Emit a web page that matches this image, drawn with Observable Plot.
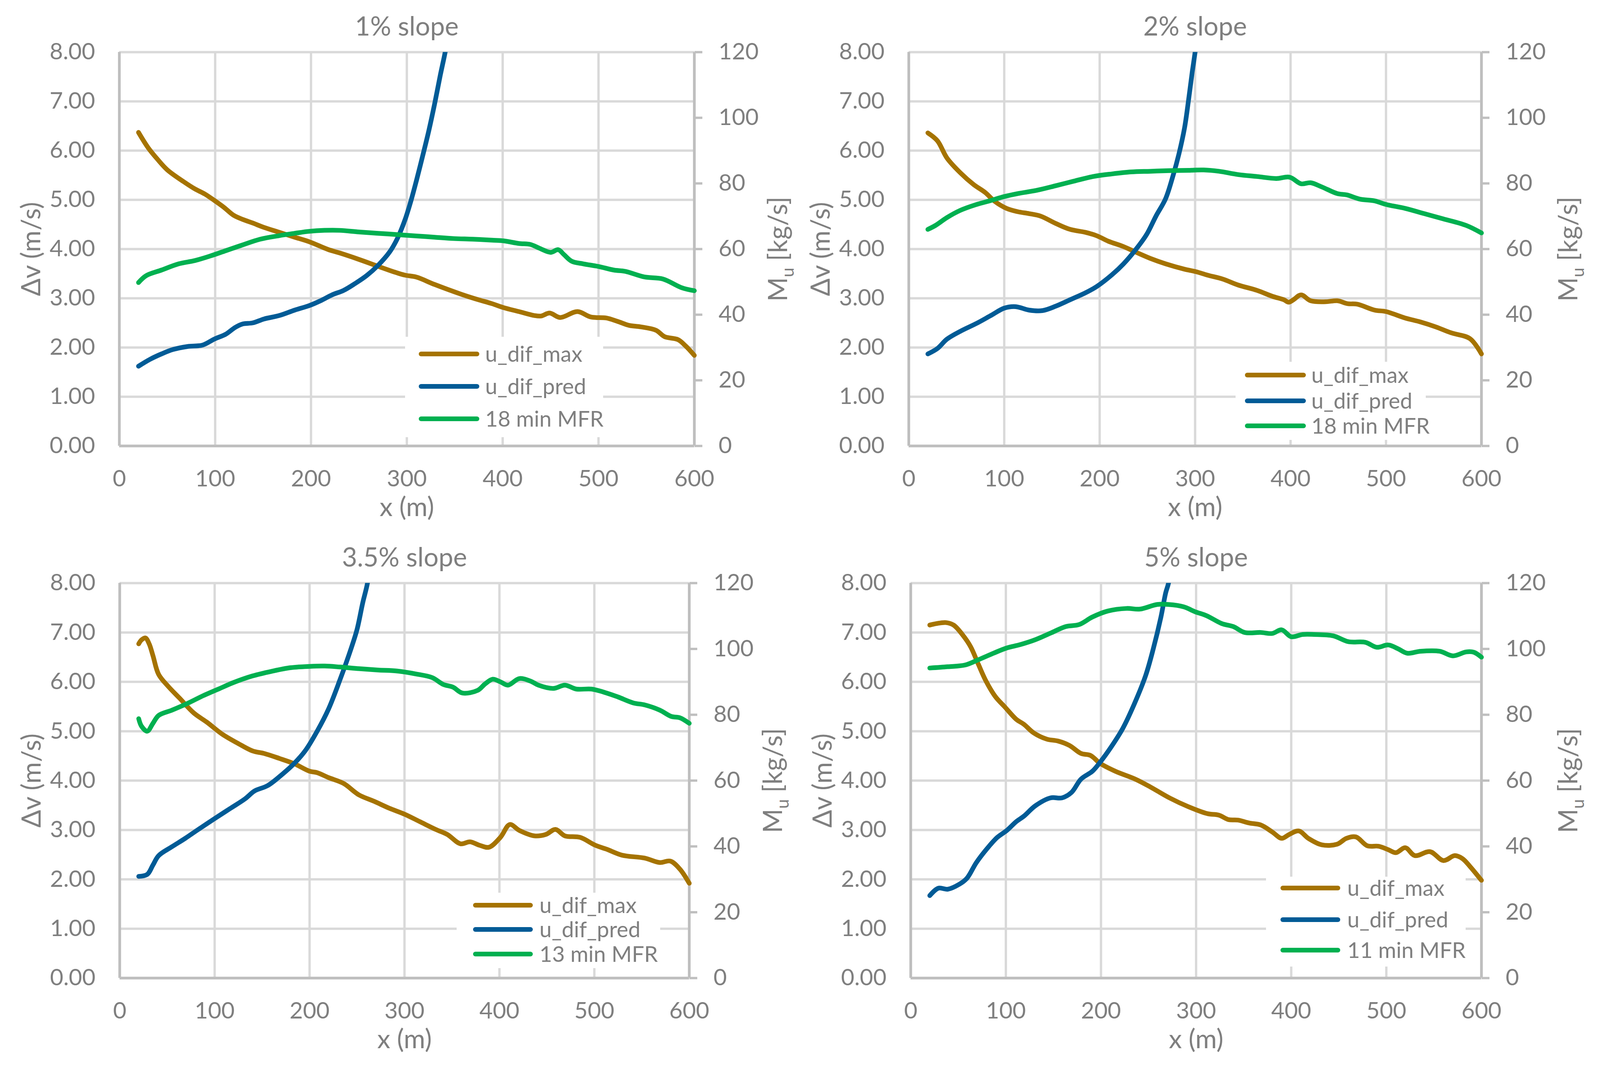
<!DOCTYPE html>
<html>
<head>
<meta charset="utf-8">
<script src="https://cdn.jsdelivr.net/npm/d3@7"></script>
<script src="https://cdn.jsdelivr.net/npm/@observablehq/plot@0.6"></script>
<style>
  html, body { margin: 0; padding: 0; background: #fff; overflow: hidden; }
  #root { position: relative; height: 2726px; overflow: hidden; font-family: Lato, "Open Sans", sans-serif; background: #fff; }
  .panel { position: absolute; }
  .legend { position: absolute; background: #fff; }
  .swatch { position: absolute; height: 12px; border-radius: 6px; }
  .ltext { position: absolute; font-size: 56px; line-height: 1; color: #7f7f7f; transform: translateY(-52%); white-space: nowrap; }
</style>
</head>
<body>
<div id="root"></div>
<script>
// ---------- data ----------
const titles = ["1% slope", "2% slope", "3.5% slope", "5% slope"];
const seriesNames = ["u_dif_max", "u_dif_pred"];
const mfrLabels = ["18 min MFR", "18 min MFR", "13 min MFR", "11 min MFR"];
const xTicks = [0, 100, 200, 300, 400, 500, 600];
const leftTicks = [0, 1, 2, 3, 4, 5, 6, 7, 8];
const rightTicks = [0, 20, 40, 60, 80, 100, 120];

// 1% slope
const p1Max = [[20,6.37],[30,6.06],[40,5.82],[50,5.61],[67,5.37],[79,5.22],[89,5.12],[99,4.99],[109,4.85],[119,4.69],[129,4.60],[139,4.53],[151,4.44],[167,4.34],[183,4.24],[198,4.15],[218,3.99],[230,3.92],[250,3.79],[270,3.65],[286,3.54],[298,3.47],[310,3.43],[329,3.28],[357,3.08],[373,2.98],[389,2.89],[401,2.81],[417,2.73],[433,2.65],[440,2.64],[449,2.70],[460,2.61],[478,2.73],[492,2.62],[508,2.60],[520,2.53],[532,2.45],[544,2.42],[560,2.35],[569,2.22],[583,2.16],[591,2.03],[600,1.84]];
const p1Pred = [[20,1.62],[32,1.76],[44,1.87],[56,1.96],[71,2.02],[87,2.05],[99,2.17],[111,2.27],[121,2.41],[129,2.48],[139,2.50],[151,2.58],[167,2.65],[183,2.76],[198,2.85],[210,2.95],[222,3.07],[234,3.16],[246,3.30],[258,3.46],[270,3.67],[282,3.94],[290,4.21],[298,4.59],[304,4.96],[310,5.39],[317,5.93],[323,6.41],[329,6.95],[335,7.54],[340,8.00],[344,8.45]];
const p1Mfr = [[20,49.8],[28,51.9],[44,53.6],[62,55.5],[79,56.5],[95,57.9],[111,59.5],[127,61.1],[147,63.0],[167,64.1],[183,64.8],[198,65.4],[214,65.7],[230,65.7],[250,65.2],[270,64.8],[290,64.4],[310,64.0],[329,63.6],[349,63.2],[369,63.0],[389,62.7],[401,62.5],[417,61.7],[429,61.4],[438,60.3],[450,59.0],[458,59.8],[464,58.3],[472,56.3],[484,55.5],[500,54.7],[516,53.6],[528,53.2],[548,51.5],[567,50.9],[587,48.2],[600,47.3]];

// 2% slope
const p2Max = [[20,6.36],[30,6.20],[40,5.85],[54,5.55],[68,5.31],[80,5.15],[90,4.97],[102,4.83],[114,4.76],[126,4.72],[138,4.67],[154,4.52],[169,4.40],[185,4.34],[197,4.27],[209,4.16],[225,4.05],[241,3.91],[253,3.81],[269,3.70],[289,3.59],[301,3.54],[313,3.47],[329,3.39],[345,3.27],[365,3.16],[381,3.04],[393,2.97],[398,2.92],[403,2.97],[411,3.07],[421,2.95],[437,2.93],[449,2.95],[460,2.89],[470,2.88],[488,2.76],[500,2.73],[520,2.60],[536,2.52],[552,2.42],[568,2.30],[588,2.18],[600,1.87]];
const p2Pred = [[20,1.87],[30,1.98],[40,2.17],[54,2.33],[72,2.50],[86,2.65],[100,2.80],[112,2.83],[126,2.76],[140,2.75],[154,2.84],[169,2.97],[185,3.11],[197,3.24],[213,3.48],[225,3.70],[237,3.97],[249,4.29],[259,4.67],[269,5.02],[277,5.50],[283,5.93],[289,6.47],[293,7.01],[297,7.60],[300,8.00],[303,8.45]];
const p2Mfr = [[20,66.0],[28,67.2],[40,69.6],[54,71.8],[70,73.5],[86,74.8],[100,76.0],[114,76.9],[134,77.9],[154,79.3],[173,80.7],[193,82.1],[213,82.9],[233,83.5],[253,83.7],[273,83.9],[293,84.0],[309,84.1],[325,83.7],[345,82.7],[365,82.1],[385,81.5],[399,81.9],[411,79.9],[421,80.2],[433,78.9],[449,76.9],[459,76.5],[473,75.2],[488,74.7],[500,73.6],[520,72.4],[540,70.8],[560,69.2],[584,67.2],[600,64.9]];

// 3.5% slope
const p3Max = [[20,6.77],[23,6.85],[27,6.89],[31,6.77],[35,6.53],[41,6.15],[51,5.91],[63,5.67],[78,5.37],[92,5.18],[108,4.94],[124,4.76],[140,4.60],[152,4.55],[168,4.45],[184,4.34],[200,4.19],[208,4.16],[220,4.06],[236,3.94],[252,3.71],[268,3.58],[284,3.44],[300,3.32],[316,3.17],[333,3.01],[345,2.91],[359,2.72],[369,2.76],[379,2.69],[389,2.65],[401,2.85],[411,3.11],[421,2.99],[437,2.88],[449,2.91],[459,3.01],[469,2.88],[485,2.85],[501,2.69],[513,2.61],[529,2.49],[553,2.43],[569,2.34],[580,2.37],[590,2.21],[600,1.92]];
const p3Pred = [[20,2.06],[29,2.10],[35,2.29],[41,2.48],[55,2.66],[69,2.83],[82,3.00],[100,3.23],[116,3.43],[132,3.63],[142,3.79],[156,3.90],[172,4.14],[184,4.35],[196,4.62],[208,5.00],[220,5.45],[232,6.04],[244,6.69],[250,7.06],[256,7.60],[261,8.00],[264,8.45]];
const p3Mfr = [[20,78.8],[23,76.5],[29,75.0],[35,77.4],[41,79.8],[55,81.4],[71,83.4],[88,85.8],[104,87.8],[120,89.8],[140,91.8],[160,93.2],[180,94.3],[200,94.7],[216,94.8],[232,94.5],[252,94.0],[272,93.6],[292,93.3],[312,92.4],[329,91.3],[341,89.2],[351,88.4],[361,86.6],[377,87.4],[385,89.4],[393,90.8],[401,90.0],[409,89.0],[421,91.0],[433,90.2],[441,89.0],[457,88.0],[469,89.0],[481,87.8],[497,87.8],[513,86.6],[525,85.4],[541,83.6],[553,83.0],[569,81.4],[581,79.5],[590,79.1],[600,77.4]];

// 5% slope
const p4Max = [[20,7.15],[27,7.18],[37,7.20],[45,7.15],[55,6.94],[63,6.71],[71,6.36],[79,6.02],[89,5.70],[99,5.49],[111,5.24],[119,5.14],[129,4.97],[143,4.84],[155,4.80],[167,4.71],[179,4.55],[189,4.51],[199,4.35],[215,4.19],[236,4.03],[252,3.87],[272,3.65],[292,3.47],[312,3.33],[324,3.30],[334,3.21],[344,3.20],[356,3.14],[368,3.10],[380,2.96],[390,2.83],[398,2.91],[408,2.98],[418,2.83],[432,2.70],[448,2.71],[458,2.83],[468,2.86],[480,2.68],[492,2.67],[502,2.60],[510,2.54],[520,2.64],[530,2.48],[546,2.56],[560,2.38],[572,2.48],[580,2.42],[588,2.26],[600,1.98]];
const p4Pred = [[20,1.67],[29,1.82],[39,1.80],[51,1.90],[59,2.02],[69,2.34],[81,2.64],[91,2.85],[101,2.99],[111,3.17],[119,3.28],[131,3.49],[147,3.65],[159,3.65],[169,3.76],[179,4.03],[191,4.19],[199,4.37],[211,4.69],[223,5.06],[235,5.55],[247,6.13],[255,6.67],[263,7.31],[268,7.80],[271,8.00],[274,8.45]];
const p4Mfr = [[20,94.2],[39,94.6],[57,95.1],[71,96.7],[87,98.7],[101,100.3],[115,101.3],[131,102.8],[147,104.8],[163,106.8],[177,107.4],[191,109.7],[207,111.5],[227,112.3],[241,112.1],[259,113.5],[271,113.5],[287,112.8],[299,111.3],[311,110.1],[327,107.7],[339,106.8],[351,105.0],[368,105.0],[380,104.7],[390,105.8],[400,103.7],[412,104.4],[424,104.4],[444,104.0],[460,102.2],[478,102.0],[490,100.5],[502,101.2],[512,100.1],[522,98.7],[536,99.3],[556,99.3],[570,97.9],[584,99.1],[592,99.0],[600,97.5]];

const maxSeries = [p1Max, p2Max, p3Max, p4Max];
const predSeries = [p1Pred, p2Pred, p3Pred, p4Pred];
const mfrSeries = [p1Mfr, p2Mfr, p3Mfr, p4Mfr];

// ---------- styling / layout ----------
const COLORS = { max: "#a57300", pred: "#005b96", mfr: "#00b050" };
const TEXT = "#7f7f7f", GRID = "#d9d9d9", AXIS = "#bfbfbf";
const RATIO = 120 / 8; // right axis (kg/s) per left axis unit (m/s)

// layout is measured on a 4292-wide canvas; x positions are fitted to the real viewport width
const REF_W = 4292;
const W = Math.min(REF_W, window.innerWidth || REF_W);
const sx = W / REF_W;
const X = v => Math.round(v * sx);

const layouts = [
  { left: 0,    top: 0,    ml: 320, mr: 284, mt: 133, mb: 222, rdx: 226 },
  { left: 2146, top: 0,    ml: 291, mr: 319, mt: 133, mb: 222, rdx: 235 },
  { left: 0,    top: 1359, ml: 321, mr: 298, mt: 133, mb: 219, rdx: 226 },
  { left: 2146, top: 1359, ml: 297, mr: 319, mt: 133, mb: 219, rdx: 235 }
];
const legendLayouts = [
  { box: [1087, 862, 1618, 1119], rows: [906, 989, 1072], line: [1123, 1286], text: 1301 },
  { box: [3314, 926, 3825, 1126], rows: [960, 1026, 1090], line: [3340, 3503], text: 3518 },
  { box: [1225, 2285, 1771, 2478], rows: [2317, 2379, 2442], line: [1269, 1429], text: 1447 },
  { box: [3396, 2244, 3932, 2474], rows: [2273, 2354, 2432], line: [3435, 3595], text: 3614 }
];

const root = document.getElementById("root");
root.style.width = W + "px";
const lineOpts = { strokeWidth: 12, strokeLinecap: "round", strokeLinejoin: "round", curve: "catmull-rom" };

for (let i = 0; i < 4; i++) {
  const L = layouts[i];
  const svg = Plot.plot({
    width: X(2146),
    height: 1363,
    marginLeft: X(L.ml), marginRight: X(L.mr), marginTop: L.mt, marginBottom: L.mb,
    x: { domain: [0, 600], axis: null },
    y: { domain: [0, 8], axis: null },
    style: { fontFamily: "Lato, 'Open Sans', sans-serif", fontSize: "58px", color: TEXT, background: "#fff" },
    marks: [
      Plot.gridX(xTicks.filter(d => d > 0 && d < 600), { stroke: GRID, strokeOpacity: 1, strokeWidth: 6 }),
      Plot.gridY(leftTicks.filter(d => d > 0), { stroke: GRID, strokeOpacity: 1, strokeWidth: 6 }),
      Plot.ruleX([0, 600], { stroke: AXIS, strokeWidth: 7 }),
      Plot.ruleY([0], { stroke: AXIS, strokeWidth: 7 }),
      Plot.axisX(xTicks, { anchor: "bottom", tickSize: 0, tickPadding: 62, fontSize: 59, fill: TEXT, tickFormat: d => String(d) }),
      Plot.axisY(leftTicks, { anchor: "left", tickSize: 0, tickPadding: X(65), fontSize: 59, fill: TEXT, tickFormat: d3.format(".2f") }),
      Plot.axisY(rightTicks.map(v => v / RATIO), {
        anchor: "right", tickSize: X(21), tickPadding: X(44), stroke: AXIS, strokeWidth: 6,
        fontSize: 59, fill: TEXT, tickFormat: d => String(Math.round(d * RATIO))
      }),
      Plot.line(maxSeries[i], { x: d => d[0], y: d => d[1], stroke: COLORS.max, ...lineOpts }),
      Plot.line(predSeries[i], { x: d => d[0], y: d => d[1], stroke: COLORS.pred, clip: true, ...lineOpts }),
      Plot.line(mfrSeries[i], { x: d => d[0], y: d => d[1] / RATIO, stroke: COLORS.mfr, ...lineOpts }),
      Plot.text([titles[i]], { text: d => d, frameAnchor: "top", dy: -43, lineAnchor: "bottom", fontSize: 67, fill: TEXT }),
      Plot.text(["x (m)"], { text: d => d, frameAnchor: "bottom", dy: 158, lineAnchor: "middle", fontSize: 67, fill: TEXT }),
      Plot.text(["Δv (m/s)"], { text: d => d, frameAnchor: "left", dx: -X(235), rotate: -90, lineAnchor: "middle", textAnchor: "middle", fontSize: 67, fill: TEXT }),
      Plot.text(["M_u [kg/s]"], { text: d => d, frameAnchor: "right", dx: X(L.rdx), rotate: -90, lineAnchor: "middle", textAnchor: "middle", fontSize: 67, fill: TEXT })
    ]
  });

  // subscript for M_u
  svg.querySelectorAll("text").forEach(t => {
    if (t.textContent === "M_u [kg/s]") {
      t.textContent = "";
      const ns = "http://www.w3.org/2000/svg";
      const a = document.createElementNS(ns, "tspan"); a.textContent = "M";
      const b = document.createElementNS(ns, "tspan"); b.textContent = "u";
      b.setAttribute("font-size", "44"); b.setAttribute("dy", "17");
      const c = document.createElementNS(ns, "tspan"); c.textContent = "\u00a0[kg/s]";
      c.setAttribute("dy", "-17");
      t.append(a, b, c);
    }
  });

  const wrap = document.createElement("div");
  wrap.className = "panel";
  wrap.style.left = X(L.left) + "px";
  wrap.style.top = L.top + "px";
  wrap.appendChild(svg);
  root.appendChild(wrap);

  // legend overlay (inside plot area, white box)
  const G = legendLayouts[i];
  const box = document.createElement("div");
  box.className = "legend";
  box.style.left = X(G.box[0]) + "px";
  box.style.top = G.box[1] + "px";
  box.style.width = (X(G.box[2]) - X(G.box[0])) + "px";
  box.style.height = (G.box[3] - G.box[1]) + "px";
  root.appendChild(box);
  const labels = [seriesNames[0], seriesNames[1], mfrLabels[i]];
  const cols = [COLORS.max, COLORS.pred, COLORS.mfr];
  labels.forEach((lab, k) => {
    const sw = document.createElement("div");
    sw.className = "swatch";
    sw.style.left = X(G.line[0]) + "px";
    sw.style.width = (X(G.line[1]) - X(G.line[0])) + "px";
    sw.style.top = (G.rows[k] - 6) + "px";
    sw.style.background = cols[k];
    root.appendChild(sw);
    const tx = document.createElement("div");
    tx.className = "ltext";
    tx.style.left = X(G.text) + "px";
    tx.style.top = G.rows[k] + "px";
    tx.textContent = lab;
    root.appendChild(tx);
  });
}
</script>
</body>
</html>
